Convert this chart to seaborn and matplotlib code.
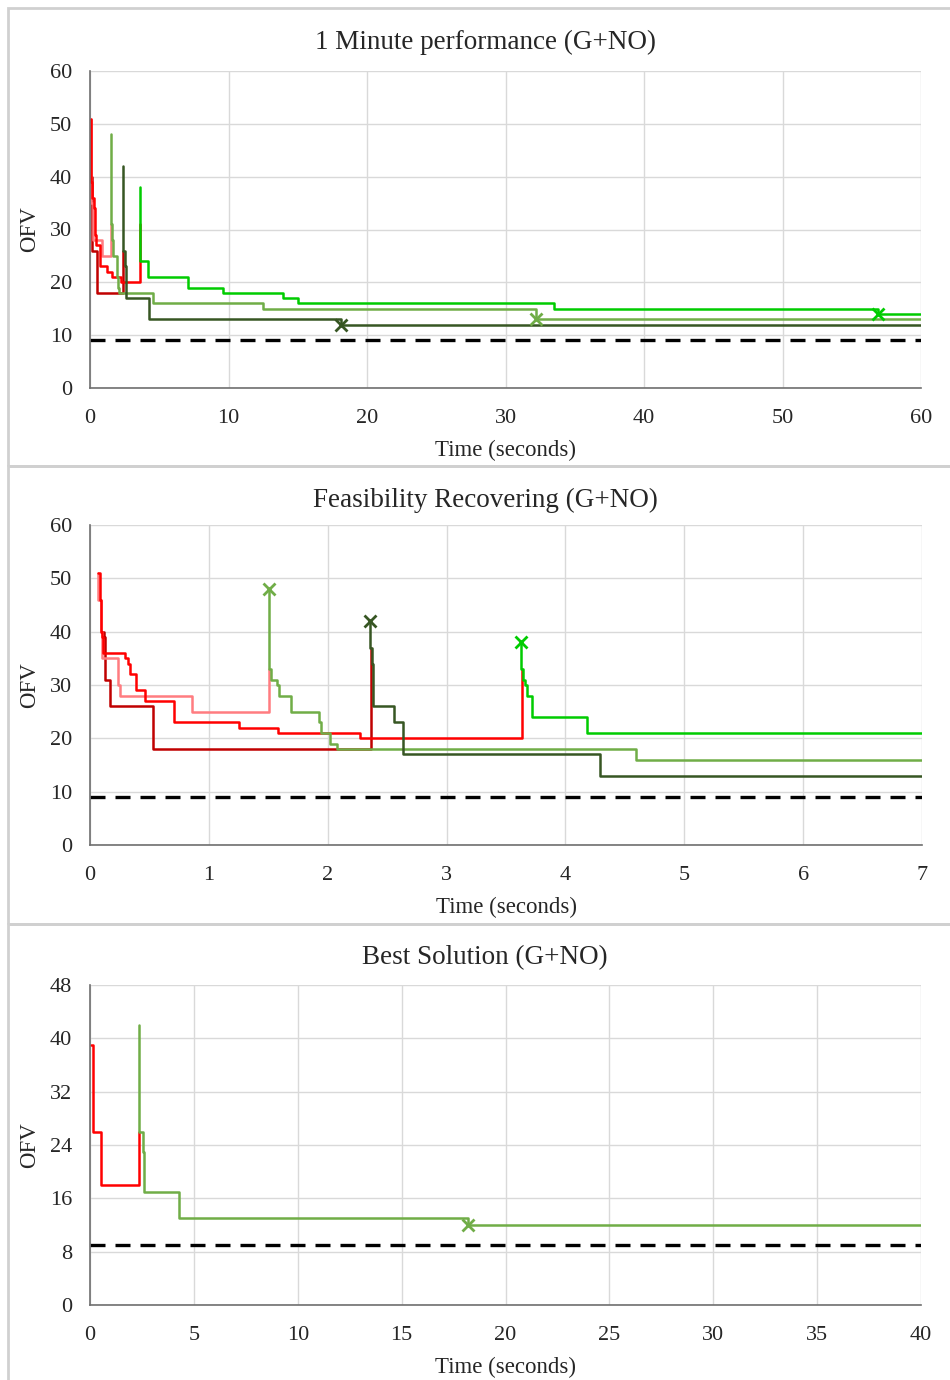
import matplotlib
matplotlib.use("Agg")
import matplotlib.pyplot as plt
from matplotlib.patches import Rectangle
import seaborn as sns

sns.set_style("whitegrid")
plt.rcParams["font.family"] = ["Liberation Serif", "DejaVu Serif"]

RED = "#FF0000"
SALMON = "#FF7C80"
DARKRED = "#C00000"
LGREEN = "#70AD47"
DGREEN = "#375623"
BGREEN = "#00CC00"
TARGET = 9

# ---- panel 1: 1 minute performance (steps-post: value v starts at time t)
p1_red_t = [0.07, 0.08, 0.095, 0.105, 0.112, 0.294, 0.32, 0.34, 0.385, 0.463, 0.71, 1.25, 1.58, 2.27, 3.63]
p1_red_v = [51, 46, 40, 39, 36, 35, 34, 32, 29, 27, 23, 22, 21, 20, 31]
p1_salmon_t = [0.065, 0.07, 0.09, 0.1, 0.233, 0.25, 0.855, 1.52]
p1_salmon_v = [51, 46, 40, 35, 30, 28, 25, 31]
p1_darkred_t = [0.1, 0.115, 0.13, 0.165, 0.527, 2.36]
p1_darkred_v = [40, 39, 31, 26, 18, 26]
p1_lgreen_t = [1.52, 1.52, 1.59, 1.69, 1.93, 1.94, 2.02, 2.08, 4.57, 12.5, 32.2, 60]
p1_lgreen_v = [48, 31, 28, 25, 23, 21, 19, 18, 16, 15, 13, 13]
p1_dgreen_t = [2.36, 2.36, 2.56, 2.63, 4.28, 18.1, 60]
p1_dgreen_v = [42, 26, 23, 17, 13, 12, 12]
p1_bgreen_t = [3.63, 3.63, 4.2, 7.1, 9.6, 13.9, 15.0, 33.5, 56.9, 60]
p1_bgreen_v = [38, 24, 21, 19, 18, 17, 16, 15, 14, 14]
p1_mark_t = [18.1, 32.2, 56.9]
p1_mark_v = [12, 13, 14]

# ---- panel 2: feasibility recovering
p2_red_t = [0.07, 0.08, 0.095, 0.105, 0.112, 0.294, 0.32, 0.34, 0.385, 0.463, 0.71, 1.25, 1.58, 2.27, 3.635]
p2_red_v = [51, 46, 40, 39, 36, 35, 34, 32, 29, 27, 23, 22, 21, 20, 33]
p2_salmon_t = [0.065, 0.07, 0.09, 0.104, 0.233, 0.25, 0.855, 1.505]
p2_salmon_v = [51, 46, 40, 35, 30, 28, 25, 33]
p2_darkred_t = [0.1, 0.115, 0.13, 0.165, 0.527, 2.36]
p2_darkred_v = [40, 39, 31, 26, 18, 37]
p2_lgreen_t = [1.505, 1.505, 1.52, 1.57, 1.59, 1.69, 1.93, 1.94, 2.02, 2.08, 4.59, 7]
p2_lgreen_v = [48, 33, 31, 30, 28, 25, 23, 21, 19, 18, 16, 16]
p2_dgreen_t = [2.355, 2.355, 2.37, 2.38, 2.557, 2.63, 4.29, 7]
p2_dgreen_v = [42, 37, 34, 26, 23, 17, 13, 13]
p2_bgreen_t = [3.63, 3.63, 3.645, 3.66, 3.68, 3.715, 4.18, 7]
p2_bgreen_v = [38, 33, 31, 30, 28, 24, 21, 21]
p2_mark_t = [1.505, 2.355, 3.63]
p2_mark_v = [48, 42, 38]

# ---- panel 3: best solution
p3_red_t = [0.05, 0.13, 0.15, 0.53, 2.37]
p3_red_v = [39, 31, 26, 18, 26]
p3_green_t = [2.37, 2.37, 2.57, 2.61, 4.28, 18.2, 40]
p3_green_v = [42, 26, 23, 17, 13, 12, 12]
p3_mark_t = [18.2]
p3_mark_v = [12]

W, H = 950, 1380
fig = plt.figure(figsize=(W / 100, H / 100), dpi=100)


def px_axes(left, top, right, bottom):
    return fig.add_axes([left / W, 1 - bottom / H, (right - left) / W, (bottom - top) / H])


def step(ax, t, v, color):
    sns.lineplot(x=t, y=v, drawstyle="steps-post", estimator=None, sort=False,
                 color=color, linewidth=1.8, ax=ax)


def style(ax, title, ty, xmax, xticks, ymax, yticks):
    ax.axhline(TARGET, color="black", linestyle=(0, (4.5, 3)), linewidth=2.4, zorder=1)
    ax.set_xlim(0, xmax)
    ax.set_ylim(0, ymax)
    ax.set_xticks(xticks)
    ax.set_yticks(yticks)
    ax.grid(True, color="#D9D9D9", linewidth=1)
    for s in ["top", "right"]:
        ax.spines[s].set_visible(False)
    for s in ["left", "bottom"]:
        ax.spines[s].set_color("#6F6F6F")
        ax.spines[s].set_linewidth(1.2)
    ax.tick_params(axis="both", length=0, labelsize=16)
    ax.tick_params(axis="y", pad=13)
    ax.tick_params(axis="x", pad=15)
    ax.set_xlabel("Time (seconds)", fontsize=16.5, labelpad=9)
    ax.set_ylabel("OFV", fontsize=16.5, labelpad=7)
    fig.text(485 / W, 1 - ty / H, title, ha="center", va="center", fontsize=19.5)


# panel frames
for top, bot in [(8, 466), (466, 924), (924, 1390)]:
    fig.add_artist(Rectangle((8 / W, 1 - bot / H), (W + 10 - 8) / W, (bot - top) / H,
                             transform=fig.transFigure, fill=False,
                             edgecolor="#D0D0D0", linewidth=2))

# panel 1
ax1 = px_axes(90, 71, 921, 388)
step(ax1, p1_darkred_t, p1_darkred_v, DARKRED)
step(ax1, p1_salmon_t, p1_salmon_v, SALMON)
step(ax1, p1_red_t, p1_red_v, RED)
step(ax1, p1_lgreen_t, p1_lgreen_v, LGREEN)
step(ax1, p1_dgreen_t, p1_dgreen_v, DGREEN)
step(ax1, p1_bgreen_t, p1_bgreen_v, BGREEN)
for t, v, c in zip(p1_mark_t, p1_mark_v, [DGREEN, LGREEN, BGREEN]):
    ax1.plot(t, v, "x", color=c, markersize=8, mew=2)
style(ax1, "1 Minute performance (G+NO)", 42, 60, range(0, 61, 10), 60, range(0, 61, 10))

# panel 2
ax2 = px_axes(90, 525, 922, 845)
step(ax2, p2_darkred_t, p2_darkred_v, DARKRED)
step(ax2, p2_salmon_t, p2_salmon_v, SALMON)
step(ax2, p2_red_t, p2_red_v, RED)
step(ax2, p2_lgreen_t, p2_lgreen_v, LGREEN)
step(ax2, p2_dgreen_t, p2_dgreen_v, DGREEN)
step(ax2, p2_bgreen_t, p2_bgreen_v, BGREEN)
for t, v, c in zip(p2_mark_t, p2_mark_v, [LGREEN, DGREEN, BGREEN]):
    ax2.plot(t, v, "x", color=c, markersize=8, mew=2)
style(ax2, "Feasibility Recovering (G+NO)", 500, 7, range(0, 8), 60, range(0, 61, 10))

# panel 3
ax3 = px_axes(90, 985, 921, 1305)
step(ax3, p3_red_t, p3_red_v, RED)
step(ax3, p3_green_t, p3_green_v, LGREEN)
ax3.plot(p3_mark_t, p3_mark_v, "x", color=LGREEN, markersize=8, mew=2)
style(ax3, "Best Solution (G+NO)", 958, 40, range(0, 41, 5), 48, range(0, 49, 8))

fig.savefig("out.png", dpi=100)
